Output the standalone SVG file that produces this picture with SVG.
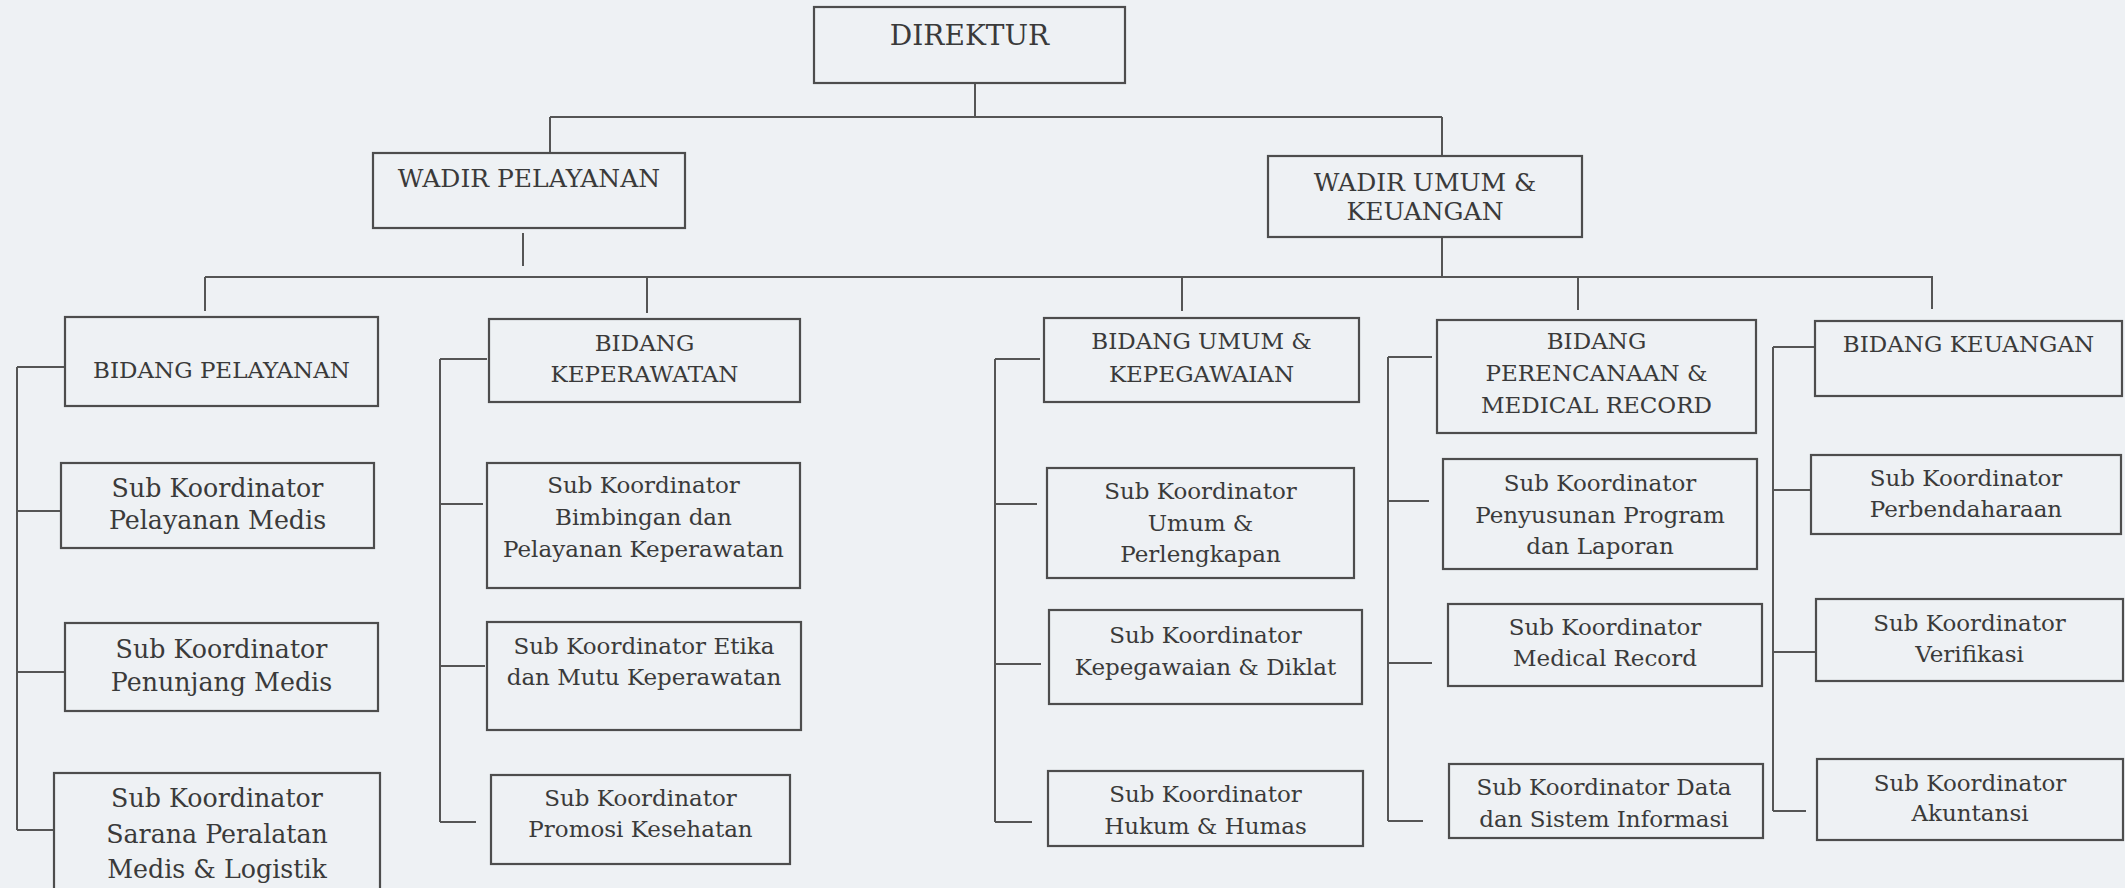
<svg xmlns="http://www.w3.org/2000/svg" width="2125" height="888" viewBox="0 0 2125 888">
<style>
.bg{fill:#eef1f4}
.box{fill:none;stroke:#4d4d4d;stroke-width:2.2}
.ln{fill:none;stroke:#555;stroke-width:2}
text{font-family:"DejaVu Serif","Liberation Serif",serif;fill:#3a3a3a;text-anchor:middle}
.t1{font-size:28px}
.t2{font-size:25px}
.t3{font-size:23px}
.t4{font-size:25.3px}
</style>
<rect class="bg" x="0" y="0" width="2125" height="888"/>
<g id="connectors">
<path class="ln" d="M975,83V117M550,117H1442M550,117V153M1442,117V156"/>
<path class="ln" d="M523,233V266M1442,237V276M205,277H1932M205,277V311M647,277V313M1182,277V311M1578,276V310M1932,276V309"/>
<path class="ln" d="M17,367V830M17,367H65M17,511H61M17,672H65M17,830H54"/>
<path class="ln" d="M440,359V822M440,359H487M440,504H483M440,666H485M440,822H476"/>
<path class="ln" d="M995,359V822M995,359H1040M995,504H1037M995,664H1041M995,822H1032"/>
<path class="ln" d="M1388,357V821M1388,357H1432M1388,501H1429M1388,663H1432M1388,821H1423"/>
<path class="ln" d="M1773,347V811M1773,347H1814M1773,490H1811M1773,652H1815M1773,811H1806"/>
</g>
<g id="direktur"><rect class="box" x="814" y="7" width="311" height="76"/><text class="t1" x="969.5" y="45">DIREKTUR</text></g>
<g id="wadir-pelayanan"><rect class="box" x="373" y="153" width="312" height="75"/><text class="t2" x="529" y="187">WADIR PELAYANAN</text></g>
<g id="wadir-umum"><rect class="box" x="1268" y="156" width="314" height="81"/><text class="t2" x="1425" y="191">WADIR UMUM &amp;</text><text class="t2" x="1425" y="220">KEUANGAN</text></g>
<g id="bidang-pelayanan"><rect class="box" x="65" y="317" width="313" height="89"/><text class="t3" x="221.5" y="378">BIDANG PELAYANAN</text></g>
<g id="bidang-keperawatan"><rect class="box" x="489" y="319" width="311" height="83"/><text class="t3" x="644.5" y="351">BIDANG</text><text class="t3" x="644.5" y="382">KEPERAWATAN</text></g>
<g id="bidang-umum"><rect class="box" x="1044" y="318" width="315" height="84"/><text class="t3" x="1201.5" y="349">BIDANG UMUM &amp;</text><text class="t3" x="1201.5" y="382">KEPEGAWAIAN</text></g>
<g id="bidang-perencanaan"><rect class="box" x="1437" y="320" width="319" height="113"/><text class="t3" x="1596.5" y="349">BIDANG</text><text class="t3" x="1596.5" y="381">PERENCANAAN &amp;</text><text class="t3" x="1596.5" y="413">MEDICAL RECORD</text></g>
<g id="bidang-keuangan"><rect class="box" x="1815" y="321" width="307" height="75"/><text class="t3" x="1968.5" y="352">BIDANG KEUANGAN</text></g>
<g id="sk-pelayanan-medis"><rect class="box" x="61" y="463" width="313" height="85"/><text class="t4" x="217.5" y="497">Sub Koordinator</text><text class="t4" x="217.5" y="529">Pelayanan Medis</text></g>
<g id="sk-penunjang-medis"><rect class="box" x="65" y="623" width="313" height="88"/><text class="t4" x="221.5" y="658">Sub Koordinator</text><text class="t4" x="221.5" y="691">Penunjang Medis</text></g>
<g id="sk-sarana"><rect class="box" x="54" y="773" width="326" height="130"/><text class="t4" x="217" y="807">Sub Koordinator</text><text class="t4" x="217" y="843">Sarana Peralatan</text><text class="t4" x="217" y="878">Medis &amp; Logistik</text></g>
<g id="sk-bimbingan"><rect class="box" x="487" y="463" width="313" height="125"/><text class="t3" x="643.5" y="493">Sub Koordinator</text><text class="t3" x="643.5" y="525">Bimbingan dan</text><text class="t3" x="643.5" y="557">Pelayanan Keperawatan</text></g>
<g id="sk-etika"><rect class="box" x="487" y="622" width="314" height="108"/><text class="t3" x="644" y="654">Sub Koordinator Etika</text><text class="t3" x="644" y="685">dan Mutu Keperawatan</text></g>
<g id="sk-promosi"><rect class="box" x="491" y="775" width="299" height="89"/><text class="t3" x="640.5" y="806">Sub Koordinator</text><text class="t3" x="640.5" y="837">Promosi Kesehatan</text></g>
<g id="sk-umum"><rect class="box" x="1047" y="468" width="307" height="110"/><text class="t3" x="1200.5" y="499">Sub Koordinator</text><text class="t3" x="1200.5" y="531">Umum &amp;</text><text class="t3" x="1200.5" y="562">Perlengkapan</text></g>
<g id="sk-kepegawaian"><rect class="box" x="1049" y="610" width="313" height="94"/><text class="t3" x="1205.5" y="643">Sub Koordinator</text><text class="t3" x="1205.5" y="675">Kepegawaian &amp; Diklat</text></g>
<g id="sk-hukum"><rect class="box" x="1048" y="771" width="315" height="75"/><text class="t3" x="1205.5" y="802">Sub Koordinator</text><text class="t3" x="1205.5" y="834">Hukum &amp; Humas</text></g>
<g id="sk-penyusunan"><rect class="box" x="1443" y="459" width="314" height="110"/><text class="t3" x="1600" y="491">Sub Koordinator</text><text class="t3" x="1600" y="523">Penyusunan Program</text><text class="t3" x="1600" y="554">dan Laporan</text></g>
<g id="sk-medical-record"><rect class="box" x="1448" y="604" width="314" height="82"/><text class="t3" x="1605" y="635">Sub Koordinator</text><text class="t3" x="1605" y="666">Medical Record</text></g>
<g id="sk-data"><rect class="box" x="1449" y="764" width="314" height="74"/><text class="t3" x="1604" y="795">Sub Koordinator Data</text><text class="t3" x="1604" y="827">dan Sistem Informasi</text></g>
<g id="sk-perbendaharaan"><rect class="box" x="1811" y="455" width="310" height="79"/><text class="t3" x="1966" y="486">Sub Koordinator</text><text class="t3" x="1966" y="517">Perbendaharaan</text></g>
<g id="sk-verifikasi"><rect class="box" x="1816" y="599" width="307" height="82"/><text class="t3" x="1969.5" y="631">Sub Koordinator</text><text class="t3" x="1969.5" y="662">Verifikasi</text></g>
<g id="sk-akuntansi"><rect class="box" x="1817" y="759" width="306" height="81"/><text class="t3" x="1970" y="791">Sub Koordinator</text><text class="t3" x="1970" y="821">Akuntansi</text></g>
</svg>
